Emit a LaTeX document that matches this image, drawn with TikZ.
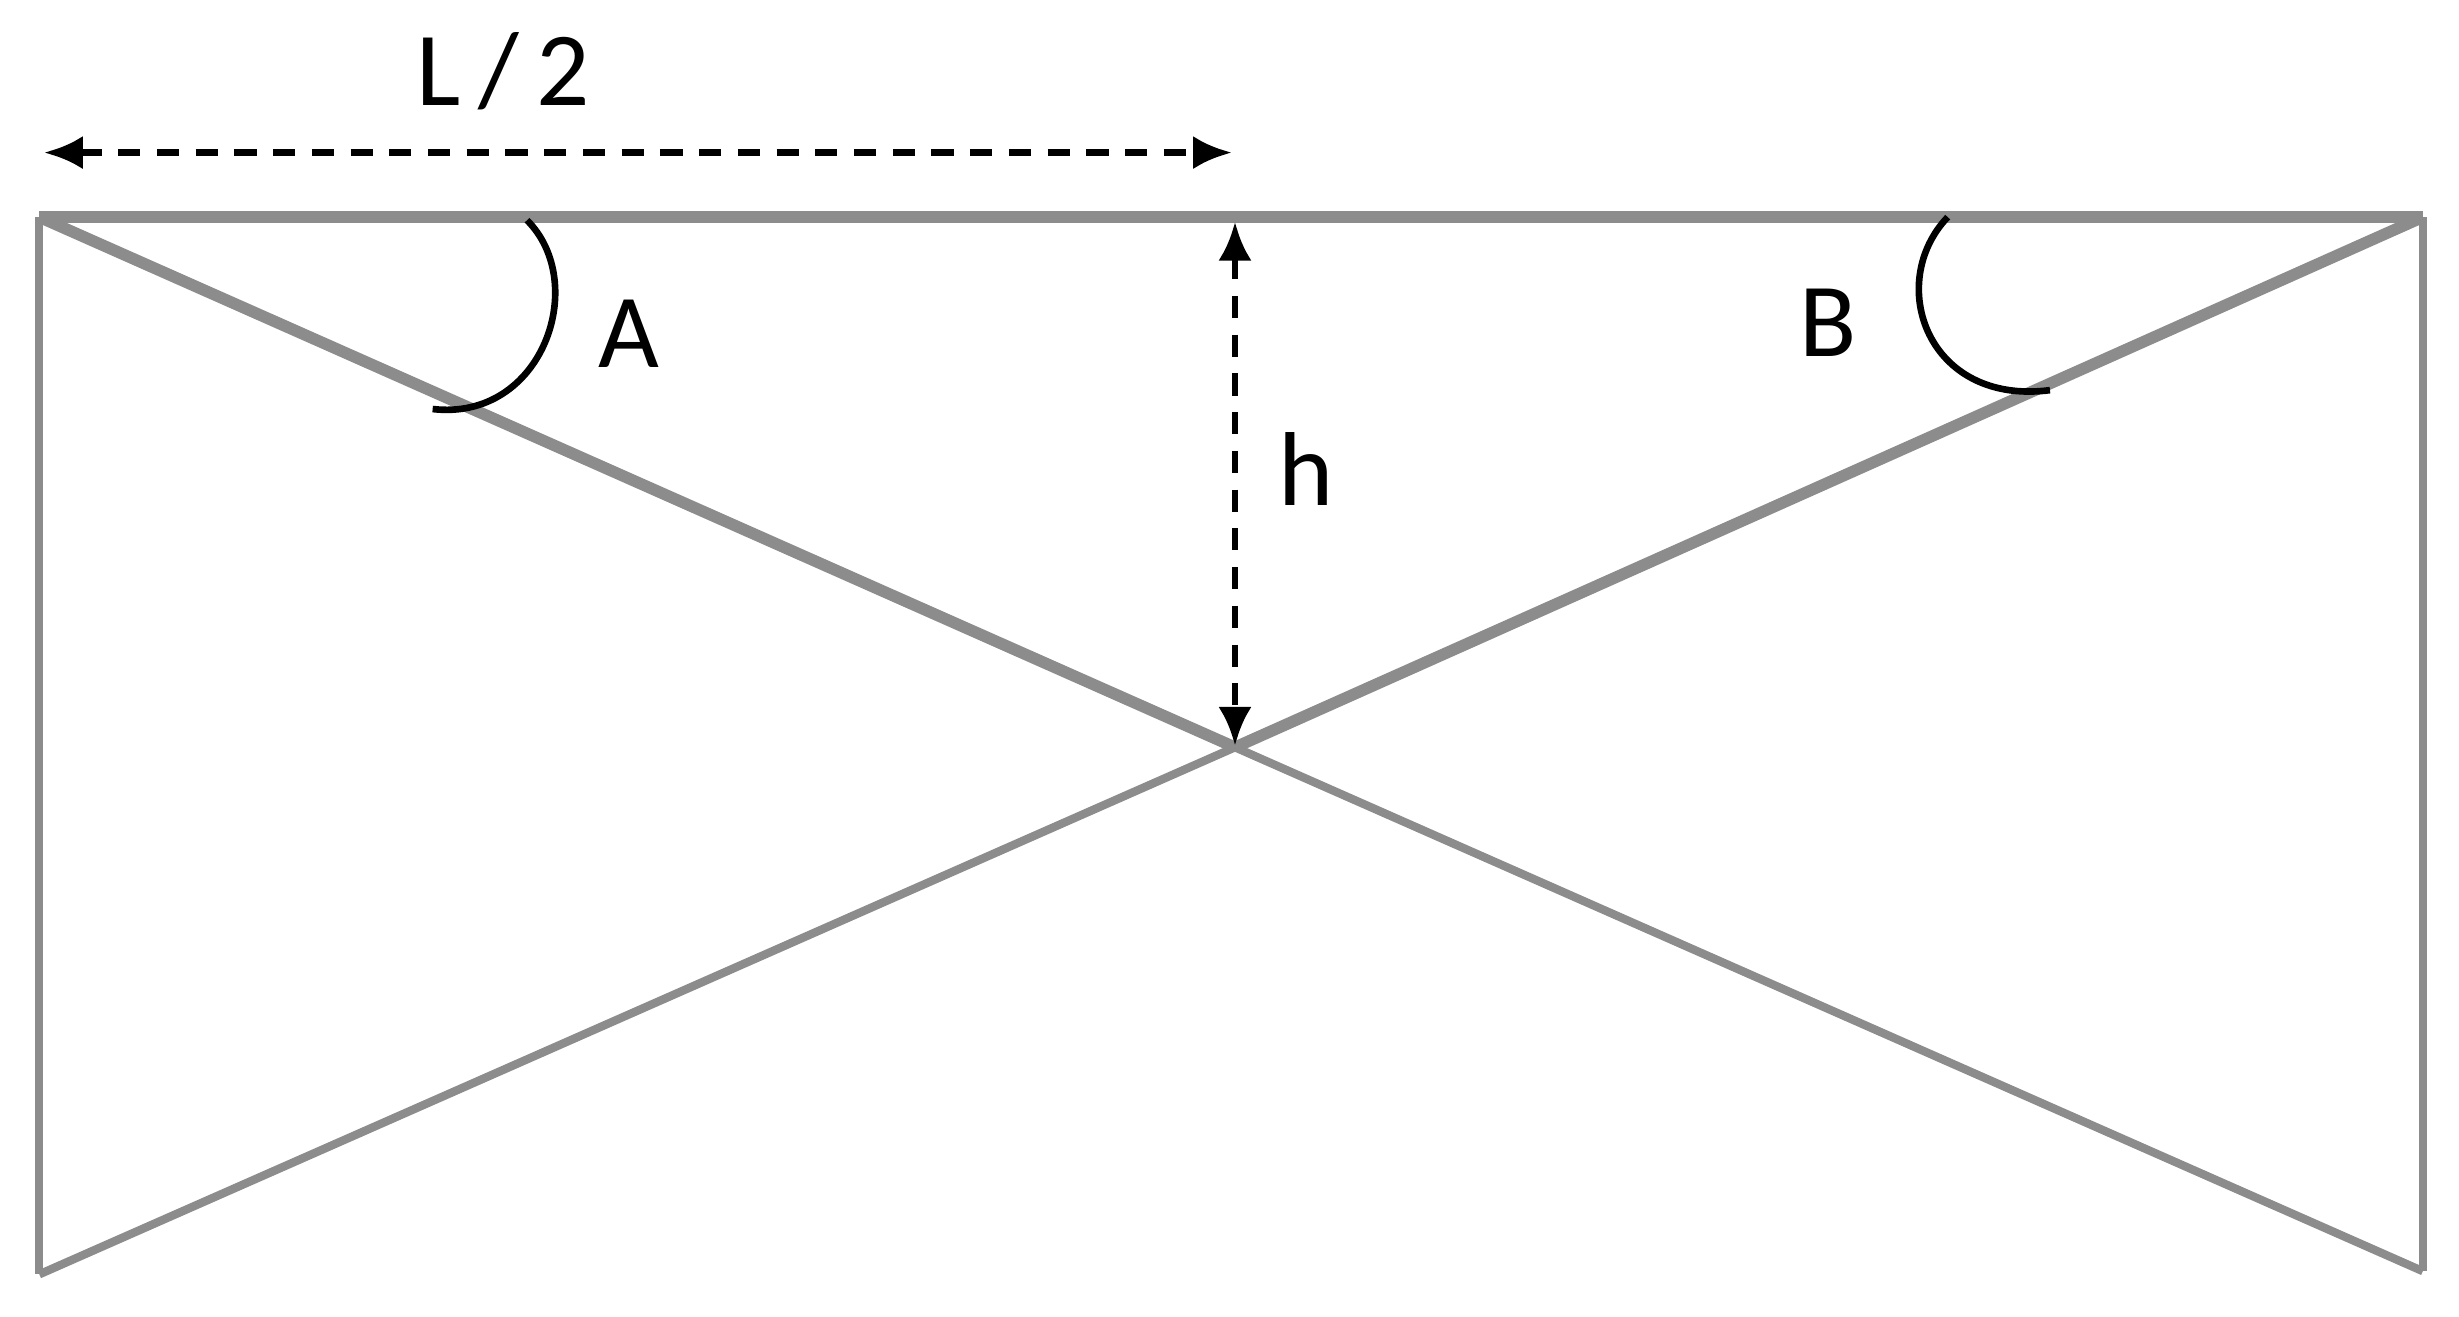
\documentclass[tikz,border=0pt]{standalone}
\usepackage{fontspec}
\setmainfont{Carlito}
\usetikzlibrary{arrows.meta}
\begin{document}
\begin{tikzpicture}[x=0.01cm,y=-0.01cm,
  frame/.style={draw=gray!90!white,line width=1.5pt},
  thick frame/.style={draw=gray!90!white,line width=2.1pt},
  dim/.style={line width=1.2pt,dash pattern=on 4pt off 3pt,{Latex[length=7pt,width=6pt]}-{Latex[length=7pt,width=6pt]}},
  lab/.style={font=\fontsize{19}{22}\selectfont},
  arcline/.style={draw=black,line width=1.2pt}]
\useasboundingbox (0,0) rectangle (1563,837);
\coordinate (TL) at (25,138);
\coordinate (TR) at (1540,138);
\coordinate (BL) at (25,810);
\coordinate (BR) at (1540,808);
\coordinate (X) at (785,475);
\draw[thick frame] (TL) -- (TR);
\draw[frame] (TL) -- (BL);
\draw[frame] (TR) -- (BR);
\draw[thick frame] (TL) -- (X);
\draw[thick frame] (TR) -- (X);
\draw[frame] (X) -- (BR);
\draw[frame] (X) -- (BL);
\coordinate (H1) at (28,97);
\coordinate (H2) at (783,97);
\draw[dim] (H1) -- (H2);
\coordinate (V1) at (785,141);
\coordinate (V2) at (785,474);
\draw[dim] (V1) -- (V2);
\node[lab] (L) at (320,45) {L\,/\,2};
\node[lab] (h) at (830,298) {h};
\node[lab] (A) at (400,212) {A};
\node[lab] (B) at (1162,205) {B};
\coordinate (A1) at (335,140);
\coordinate (A2) at (275,260);
\draw[arcline] (A1) .. controls (375,180) and (345,268) .. (A2);
\coordinate (B1) at (1238,138);
\coordinate (B2) at (1303,248);
\draw[arcline] (B1) .. controls (1198,180) and (1225,258) .. (B2);
\end{tikzpicture}
\end{document}
